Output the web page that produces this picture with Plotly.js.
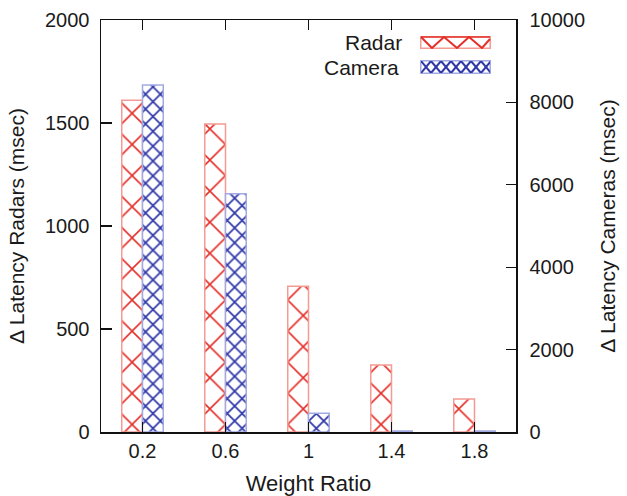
<!DOCTYPE html>
<html>
<head>
<meta charset="utf-8">
<script src="https://cdn.plot.ly/plotly-3.0.1.min.js"></script>
<style>html,body{margin:0;padding:0;background:#fff;}#chart{width:627px;height:496px;}</style>
</head>
<body>
<div id="chart"></div>
<script>
var categories = ['0.2', '0.6', '1', '1.4', '1.8'];
var radarLatency = [1610, 1495, 708, 325, 160];
var cameraLatency = [8420, 5780, 455, 25, 25];
var leftTicks = [0, 500, 1000, 1500, 2000];
var rightTicks = [0, 2000, 4000, 6000, 8000, 10000];

var RED = '#e5302a', RED_EDGE = '#f39b94';
var BLUE = '#3038a8', BLUE_EDGE = '#a3aae2';
var FONT = 'Liberation Sans, Arial, Helvetica, sans-serif';

var traces = [
  {
    type: 'bar', name: 'Radar', x: categories, y: radarLatency, yaxis: 'y',
    width: 0.25, offset: -0.25,
    marker: {
      color: 'white',
      line: {color: RED_EDGE, width: 1.5},
      pattern: {shape: 'x', fgcolor: RED, bgcolor: 'white', size: 22, solidity: 0.14, fillmode: 'replace'}
    },
    showlegend: false
  },
  {
    type: 'bar', name: 'Camera', x: categories, y: cameraLatency, yaxis: 'y2',
    width: 0.25, offset: 0,
    marker: {
      color: 'white',
      line: {color: BLUE_EDGE, width: 1.5},
      pattern: {shape: 'x', fgcolor: BLUE, bgcolor: 'white', size: 10.5, solidity: 0.3, fillmode: 'replace'}
    },
    showlegend: false
  }
];

function swatch(kind) {
  var svg;
  if (kind === 'radar') {
    svg = '<svg xmlns="http://www.w3.org/2000/svg" width="71" height="13" viewBox="0 0 71 13">' +
      '<rect x="0.75" y="0.75" width="69.5" height="11.5" fill="white" stroke="' + RED_EDGE + '" stroke-width="1.5"/>' +
      '<polyline points="1,1 12,12 24,1 37,12 49,1 62,12 70,3" fill="none" stroke="' + RED + '" stroke-width="2"/>' +
      '<line x1="1" y1="1" x2="70" y2="1" stroke="' + RED + '" stroke-width="1.4"/></svg>';
  } else {
    var p = '';
    for (var i = 0; i < 7; i++) {
      var x0 = 1 + i * 10;
      p += '<line x1="' + x0 + '" y1="1" x2="' + (x0 + 10) + '" y2="13" stroke="' + BLUE + '" stroke-width="2"/>';
      p += '<line x1="' + (x0 + 10) + '" y1="1" x2="' + x0 + '" y2="13" stroke="' + BLUE + '" stroke-width="2"/>';
    }
    svg = '<svg xmlns="http://www.w3.org/2000/svg" width="71" height="14" viewBox="0 0 71 14">' +
      '<rect x="0.75" y="0.75" width="69.5" height="12.5" fill="white" stroke="' + BLUE_EDGE + '" stroke-width="1.5"/>' +
      '<clipPath id="c"><rect x="1" y="1" width="69" height="12"/></clipPath><g clip-path="url(#c)">' + p + '</g></svg>';
  }
  return 'data:image/svg+xml;utf8,' + encodeURIComponent(svg);
}

var L = 101, R = 516, T = 20, B = 432;
function px(x) { return (x - L) / (R - L); }
function py(y) { return (B - y) / (B - T); }

var layout = {
  width: 627, height: 496,
  margin: {l: 101, r: 111, t: 20, b: 64, pad: 0},
  paper_bgcolor: 'white', plot_bgcolor: 'white',
  font: {family: FONT, size: 20, color: '#1a1a1a'},
  showlegend: false,
  xaxis: {
    type: 'category', range: [-0.5, 4.5],
    showline: true, linecolor: '#111', linewidth: 1.5, mirror: 'ticks',
    ticks: 'inside', ticklen: 10, tickwidth: 1.3, tickcolor: '#111',
    showgrid: false, zeroline: false,
    tickfont: {size: 20}, ticklabelstandoff: 0,
    title: {text: 'Weight Ratio', font: {size: 22}, standoff: 20}
  },
  yaxis: {
    range: [0, 2000], tickvals: leftTicks, ticktext: leftTicks.map(String),
    showline: true, linecolor: '#111', linewidth: 1.5, mirror: false,
    ticks: 'inside', ticklen: 11, tickwidth: 1.3, tickcolor: '#111',
    showgrid: false, zeroline: false,
    tickfont: {size: 20}, ticklabelstandoff: 6,
    title: {text: 'Δ Latency Radars (msec)', font: {size: 21}, standoff: 14}
  },
  yaxis2: {
    overlaying: 'y', side: 'right',
    range: [0, 10000], tickvals: rightTicks, ticktext: rightTicks.map(String),
    showline: true, linecolor: '#111', linewidth: 1.5,
    ticks: 'inside', ticklen: 10, tickwidth: 1.3, tickcolor: '#111',
    showgrid: false, zeroline: false,
    tickfont: {size: 20}, ticklabelstandoff: 8,
    title: {text: 'Δ Latency Cameras (msec)', font: {size: 21}, standoff: 16}
  },
  annotations: [
    {text: 'Radar', xref: 'paper', yref: 'paper', x: px(404), y: py(43), xanchor: 'right', yanchor: 'middle', showarrow: false, font: {size: 21}},
    {text: 'Camera', xref: 'paper', yref: 'paper', x: px(401), y: py(68), xanchor: 'right', yanchor: 'middle', showarrow: false, font: {size: 21}}
  ],
  images: [
    {source: swatch('radar'), xref: 'paper', yref: 'paper', x: px(420), y: py(36), sizex: 71 / (R - L), sizey: 13 / (B - T), sizing: 'stretch', xanchor: 'left', yanchor: 'top', layer: 'above'},
    {source: swatch('camera'), xref: 'paper', yref: 'paper', x: px(420), y: py(60), sizex: 71 / (R - L), sizey: 14 / (B - T), sizing: 'stretch', xanchor: 'left', yanchor: 'top', layer: 'above'}
  ]
};

Plotly.newPlot('chart', traces, layout, {displayModeBar: false, staticPlot: true});
</script>
</body>
</html>
